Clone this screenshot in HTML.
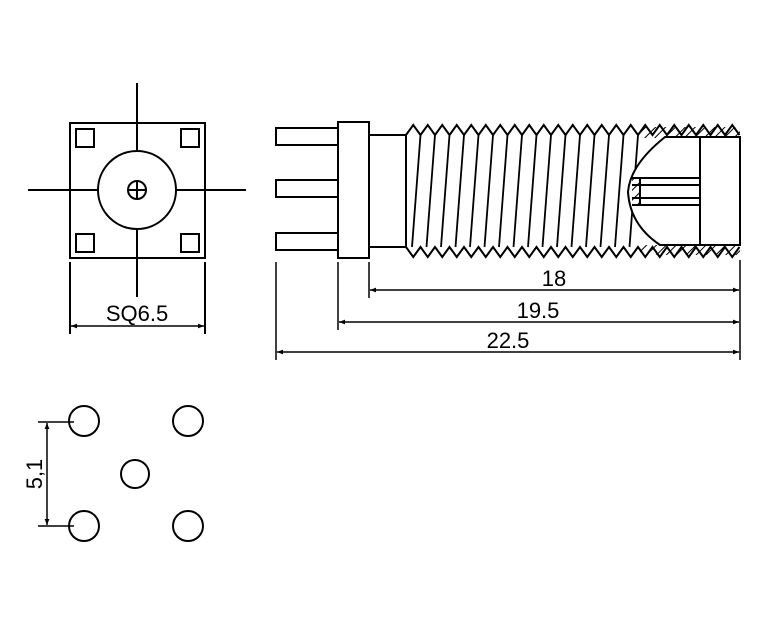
<!DOCTYPE html>
<html><head><style>html,body{margin:0;padding:0;background:#fff}svg{display:block}</style></head>
<body>
<svg width="759" height="620" viewBox="0 0 759 620" xmlns="http://www.w3.org/2000/svg" font-family="Liberation Sans, sans-serif">
<defs>
<pattern id="h" width="7" height="7" patternUnits="userSpaceOnUse" patternTransform="rotate(45)"><line x1="0" y1="0" x2="0" y2="7" stroke="#000" stroke-width="2"/></pattern>
<marker id="a" viewBox="0 0 10 10" refX="10" refY="5" markerWidth="10" markerHeight="6" orient="auto-start-reverse" markerUnits="userSpaceOnUse"><path d="M0,1 L10,5 L0,9 z" fill="#000"/></marker>
</defs>
<g stroke="#000" stroke-width="2" fill="none">
<!-- front view -->
<rect x="70" y="123" width="135" height="135"/>
<rect x="76" y="129" width="18" height="18"/><rect x="181" y="129" width="18" height="18"/>
<rect x="76" y="234" width="18" height="18"/><rect x="181" y="234" width="18" height="18"/>
<circle cx="137" cy="190" r="39"/>
<circle cx="137" cy="190" r="9"/>
<line x1="137" y1="83" x2="137" y2="151"/><line x1="137" y1="229" x2="137" y2="297"/>
<line x1="128" y1="190" x2="146" y2="190"/><line x1="137" y1="181" x2="137" y2="199"/>
<line x1="28" y1="190" x2="98" y2="190"/><line x1="176" y1="190" x2="246" y2="190"/>
<line x1="70" y1="262" x2="70" y2="334"/><line x1="205" y1="262" x2="205" y2="334"/>
<line x1="71" y1="326" x2="204" y2="326" marker-start="url(#a)" marker-end="url(#a)" stroke-width="1.5"/>
<!-- side view -->
<rect x="276" y="128" width="62" height="17"/>
<rect x="276" y="180" width="62" height="17"/>
<rect x="276" y="233" width="62" height="17"/>
<rect x="338" y="122" width="31" height="136"/>
<rect x="369" y="135" width="37" height="112"/>
<rect x="640" y="127" width="100" height="11" fill="url(#h)" stroke="none"/>
<rect x="640" y="245" width="100" height="10" fill="url(#h)" stroke="none"/>
<path d="M406,135 L406,247"/>
<path d="M406,135 l7.25,-10 l7.25,10 l7.25,-10 l7.25,10 l7.25,-10 l7.25,10 l7.25,-10 l7.25,10 l7.25,-10 l7.25,10 l7.25,-10 l7.25,10 l7.25,-10 l7.25,10 l7.25,-10 l7.25,10 l7.25,-10 l7.25,10 l7.25,-10 l7.25,10 l7.25,-10 l7.25,10 l7.25,-10 l7.25,10 l7.25,-10 l7.25,10 l7.25,-10 l7.25,10 l7.25,-10 l7.25,10 l7.25,-10 l7.25,10 l7.25,-10 l7.25,10 l7.25,-10 l7.25,10 l7.25,-10 l7.25,10 l7.25,-10 l7.25,10 l7.25,-10 l7.25,10 l7.25,-10 l7.25,10 l7.25,-10 l7.25,10"/>
<path d="M406,247 l7.25,10 l7.25,-10 l7.25,10 l7.25,-10 l7.25,10 l7.25,-10 l7.25,10 l7.25,-10 l7.25,10 l7.25,-10 l7.25,10 l7.25,-10 l7.25,10 l7.25,-10 l7.25,10 l7.25,-10 l7.25,10 l7.25,-10 l7.25,10 l7.25,-10 l7.25,10 l7.25,-10 l7.25,10 l7.25,-10 l7.25,10 l7.25,-10 l7.25,10 l7.25,-10 l7.25,10 l7.25,-10 l7.25,10 l7.25,-10 l7.25,10 l7.25,-10 l7.25,10 l7.25,-10 l7.25,10 l7.25,-10 l7.25,10 l7.25,-10 l7.25,10 l7.25,-10 l7.25,10 l7.25,-10 l7.25,10 l7.25,-10"/>
<g stroke-width="1.8">
<line x1="420.5" y1="135" x2="412" y2="247"/><line x1="435" y1="135" x2="426.5" y2="247"/><line x1="449.5" y1="135" x2="441" y2="247"/><line x1="464" y1="135" x2="455.5" y2="247"/><line x1="478.5" y1="135" x2="470" y2="247"/><line x1="493" y1="135" x2="484.5" y2="247"/><line x1="507.5" y1="135" x2="499" y2="247"/><line x1="522" y1="135" x2="513.5" y2="247"/><line x1="536.5" y1="135" x2="528" y2="247"/><line x1="551" y1="135" x2="542.5" y2="247"/><line x1="565.5" y1="135" x2="557" y2="247"/><line x1="580" y1="135" x2="571.5" y2="247"/><line x1="594.5" y1="135" x2="586" y2="247"/><line x1="609" y1="135" x2="600.5" y2="247"/><line x1="623.5" y1="135" x2="615" y2="247"/><line x1="638" y1="135" x2="629.5" y2="247"/>
</g>
<path d="M665,137 Q630,165 628,192 Q630,225 660,245 L700,245 L700,137 Z" fill="#fff"/>
<path d="M640,178 L700,178 M640,205 L700,205 M632,185 L700,185 M632,198 L700,198"/>
<path d="M632,178 L640,178 L640,205 L632,205" fill="url(#h)"/>
<rect x="700" y="137" width="40" height="108" fill="#fff"/>
<line x1="740" y1="260" x2="740" y2="360" stroke-width="1.5"/>
<line x1="369" y1="262" x2="369" y2="298" stroke-width="1.5"/>
<line x1="338" y1="262" x2="338" y2="330" stroke-width="1.5"/>
<line x1="276" y1="262" x2="276" y2="360" stroke-width="1.5"/>
<line x1="370" y1="290" x2="739" y2="290" marker-start="url(#a)" marker-end="url(#a)" stroke-width="1.5"/>
<line x1="339" y1="322" x2="739" y2="322" marker-start="url(#a)" marker-end="url(#a)" stroke-width="1.5"/>
<line x1="277" y1="352" x2="739" y2="352" marker-start="url(#a)" marker-end="url(#a)" stroke-width="1.5"/>
<!-- bottom -->
<circle cx="84" cy="421" r="15"/><circle cx="188" cy="421" r="15"/>
<circle cx="135" cy="474" r="14"/>
<circle cx="84" cy="526" r="15"/><circle cx="188" cy="526" r="15"/>
<line x1="38" y1="422" x2="74" y2="422" stroke-width="1.5"/>
<line x1="38" y1="526" x2="74" y2="526" stroke-width="1.5"/>
<line x1="47" y1="423" x2="47" y2="525" marker-start="url(#a)" marker-end="url(#a)" stroke-width="1.5"/>
</g>
<g font-size="22" fill="#000" text-anchor="middle">
<text x="137" y="321">SQ6.5</text>
<text x="554" y="286">18</text>
<text x="538" y="318">19.5</text>
<text x="508" y="348">22.5</text>
<text x="0" y="0" transform="translate(42,474) rotate(-90)">5,1</text>
</g>
</svg>
</body></html>
